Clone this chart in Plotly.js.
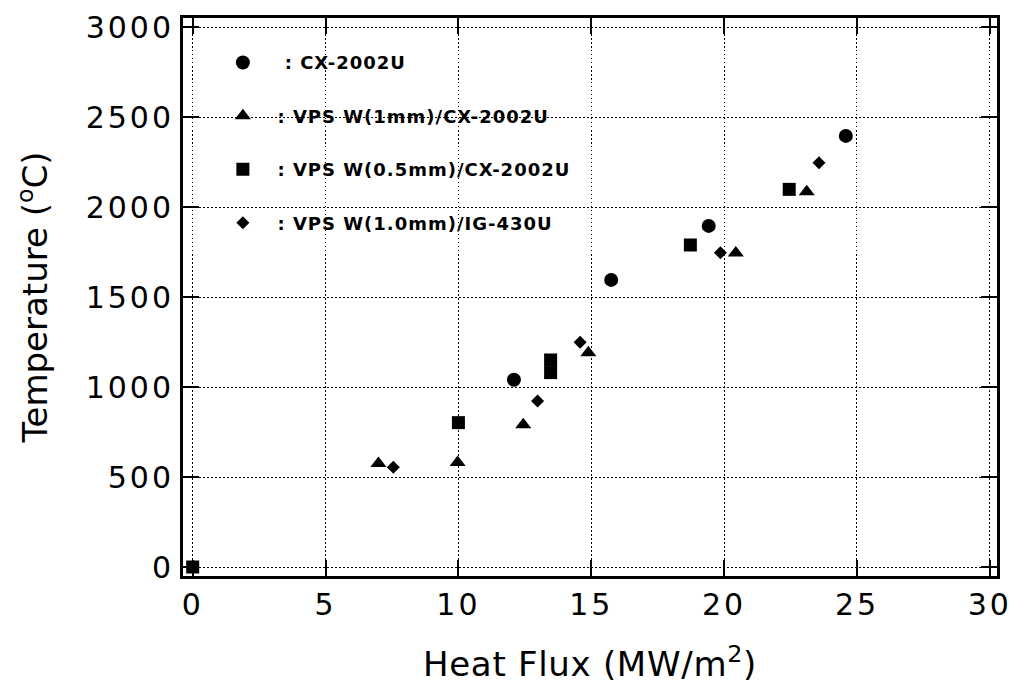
<!DOCTYPE html>
<html>
<head>
<meta charset="utf-8">
<script src="https://cdn.plot.ly/plotly-3.0.1.min.js"></script>
<style>
html,body{margin:0;padding:0;background:#fff;}
#chart{width:1011px;height:689px;}
.xtick text,.ytick text{letter-spacing:3px;}
.g-xtitle text{letter-spacing:0.7px;}
.legendtext{letter-spacing:1px;}
</style>
</head>
<body>
<div id="chart"></div>
<script>
// Series: CX-2002U (circles)
const cxX = [12.09, 15.75, 19.42, 24.58];
const cxY = [1040, 1595, 1895, 2395];
// Series: VPS W(1mm)/CX-2002U (triangles)
const w1X = [6.99, 9.97, 12.44, 14.89, 20.44, 23.11];
const w1Y = [575, 580, 790, 1190, 1745, 2085];
// Series: VPS W(0.5mm)/CX-2002U (squares)
const w05X = [0, 10.0, 13.47, 13.47, 18.73, 22.45];
const w05Y = [0, 802, 1080, 1150, 1789, 2098];
// Series: VPS W(1.0mm)/IG-430U (diamonds)
const igX = [7.55, 12.98, 14.58, 19.86, 23.57];
const igY = [554, 922, 1248, 1746, 2246];

const names = [
  '\u00a0\u00a0\u00a0: CX-2002U',
  '\u00a0\u00a0: VPS W(1mm)/CX-2002U',
  '\u00a0\u00a0: VPS W(0.5mm)/CX-2002U',
  '\u00a0\u00a0: VPS W(1.0mm)/IG-430U'
];
const xTicks = [0, 5, 10, 15, 20, 25, 30];
const yTicks = [0, 500, 1000, 1500, 2000, 2500, 3000];

function tr(x, y, name, symbol, size, g) {
  return {
    x: x, y: y, name: name, type: 'scatter', mode: 'markers',
    legendgroup: g,
    marker: {symbol: symbol, size: size, color: '#000', line: {width: 0}},
    hoverinfo: 'x+y'
  };
}

const data = [
  tr(cxX, cxY, names[0], 'circle', 14, 'a'),
  tr(w1X, w1Y, names[1], 'triangle-up', 14, 'b'),
  tr(w05X, w05Y, names[2], 'square', 13, 'c'),
  tr(igX, igY, names[3], 'diamond', 10, 'd')
];

const axBase = {
  showline: true, linecolor: '#000', linewidth: 3, mirror: 'allticks',
  ticks: 'inside', ticklen: 16, tickwidth: 2, tickcolor: '#000',
  showgrid: true, gridcolor: '#000', gridwidth: 1, griddash: '1.5px,2.5px',
  zeroline: false, ticklabeloverflow: 'allow',
  tickfont: {family: 'DejaVu Sans', size: 30, color: '#000'}
};

const layout = {
  width: 1011, height: 689,
  margin: {l: 183, r: 14, t: 18, b: 113},
  paper_bgcolor: '#fff', plot_bgcolor: '#fff',
  showlegend: true,
  legend: {
    x: 0.049, y: 0.953, xanchor: 'left', yanchor: 'top',
    bgcolor: 'rgba(0,0,0,0)', borderwidth: 0,
    tracegroupgap: 27,
    font: {family: 'DejaVu Sans', size: 18, color: '#000', weight: 'bold'}
  },
  xaxis: Object.assign({}, axBase, {
    range: [-0.365, 30.27], tickmode: 'array', tickvals: xTicks,
    ticktext: xTicks.map(String),
    title: {text: 'Heat Flux (MW/m<sup>2</sup>)', standoff: 32,
      font: {family: 'DejaVu Sans', size: 34, color: '#000'}}
  }),
  yaxis: Object.assign({}, axBase, {
    range: [-50, 3050], tickmode: 'array', tickvals: yTicks,
    ticktext: yTicks.map(String),
    title: {text: 'Temperature (<sup>o</sup>C)', standoff: 28,
      font: {family: 'DejaVu Sans', size: 34, color: '#000'}}
  })
};

Plotly.newPlot('chart', data, layout, {displayModeBar: false, staticPlot: true});
</script>
</body>
</html>
